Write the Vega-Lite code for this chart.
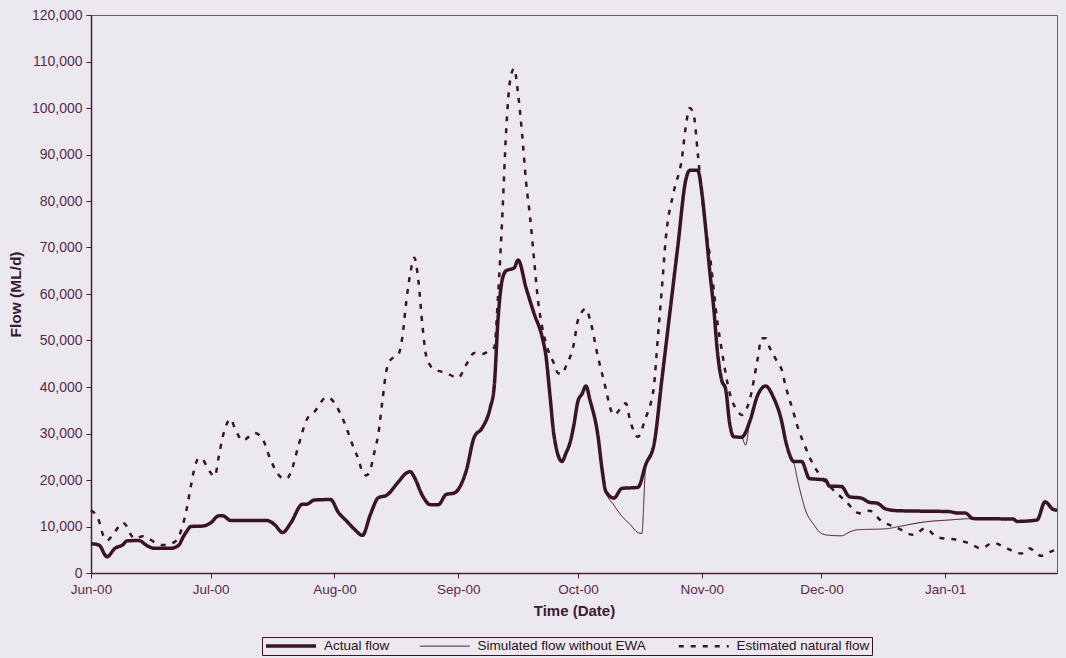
{
  "$schema": "https://vega.github.io/schema/vega-lite/v6.json",
  "autosize": {"type": "none"},
  "width": 966,
  "height": 558,
  "padding": {"left": 91, "top": 15, "right": 9, "bottom": 85},
  "background": "#ece8f0",
  "config": {
    "view": {"stroke": "#6e5a68", "strokeWidth": 1},
    "font": "Liberation Sans",
    "axis": {"labelFont": "Liberation Sans", "titleFont": "Liberation Sans", "labelColor": "#5a2a4a", "titleColor": "#3a1a30", "domainColor": "#4a1d36", "tickColor": "#4a1d36", "grid": false},
    "legend": {"labelFont": "Liberation Sans", "labelLimit": 400}
  },
  "data": {"values": [
    {"date": "2000-06-01", "series": "Actual flow", "flow": 6300},
    {"date": "2000-06-03", "series": "Actual flow", "flow": 6000},
    {"date": "2000-06-05", "series": "Actual flow", "flow": 3500},
    {"date": "2000-06-07", "series": "Actual flow", "flow": 5300},
    {"date": "2000-06-09", "series": "Actual flow", "flow": 6100},
    {"date": "2000-06-10", "series": "Actual flow", "flow": 6900},
    {"date": "2000-06-13", "series": "Actual flow", "flow": 7000},
    {"date": "2000-06-15", "series": "Actual flow", "flow": 5900},
    {"date": "2000-06-17", "series": "Actual flow", "flow": 5300},
    {"date": "2000-06-21", "series": "Actual flow", "flow": 5300},
    {"date": "2000-06-23", "series": "Actual flow", "flow": 6000},
    {"date": "2000-06-24", "series": "Actual flow", "flow": 7600},
    {"date": "2000-06-25", "series": "Actual flow", "flow": 9000},
    {"date": "2000-06-26", "series": "Actual flow", "flow": 10000},
    {"date": "2000-06-29", "series": "Actual flow", "flow": 10100},
    {"date": "2000-07-01", "series": "Actual flow", "flow": 10800},
    {"date": "2000-07-03", "series": "Actual flow", "flow": 12300},
    {"date": "2000-07-04", "series": "Actual flow", "flow": 12300},
    {"date": "2000-07-06", "series": "Actual flow", "flow": 11300},
    {"date": "2000-07-15", "series": "Actual flow", "flow": 11300},
    {"date": "2000-07-17", "series": "Actual flow", "flow": 10400},
    {"date": "2000-07-19", "series": "Actual flow", "flow": 8700},
    {"date": "2000-07-21", "series": "Actual flow", "flow": 10700},
    {"date": "2000-07-24", "series": "Actual flow", "flow": 14800},
    {"date": "2000-07-25", "series": "Actual flow", "flow": 14800},
    {"date": "2000-07-27", "series": "Actual flow", "flow": 15700},
    {"date": "2000-07-31", "series": "Actual flow", "flow": 15800},
    {"date": "2000-08-02", "series": "Actual flow", "flow": 13000},
    {"date": "2000-08-04", "series": "Actual flow", "flow": 11200},
    {"date": "2000-08-06", "series": "Actual flow", "flow": 9400},
    {"date": "2000-08-08", "series": "Actual flow", "flow": 8100},
    {"date": "2000-08-10", "series": "Actual flow", "flow": 12600},
    {"date": "2000-08-12", "series": "Actual flow", "flow": 16200},
    {"date": "2000-08-14", "series": "Actual flow", "flow": 16700},
    {"date": "2000-08-17", "series": "Actual flow", "flow": 19600},
    {"date": "2000-08-19", "series": "Actual flow", "flow": 21500},
    {"date": "2000-08-20", "series": "Actual flow", "flow": 21800},
    {"date": "2000-08-21", "series": "Actual flow", "flow": 20600},
    {"date": "2000-08-23", "series": "Actual flow", "flow": 16700},
    {"date": "2000-08-25", "series": "Actual flow", "flow": 14700},
    {"date": "2000-08-27", "series": "Actual flow", "flow": 14700},
    {"date": "2000-08-29", "series": "Actual flow", "flow": 16900},
    {"date": "2000-08-31", "series": "Actual flow", "flow": 17200},
    {"date": "2000-09-03", "series": "Actual flow", "flow": 22000},
    {"date": "2000-09-05", "series": "Actual flow", "flow": 29200},
    {"date": "2000-09-07", "series": "Actual flow", "flow": 31200},
    {"date": "2000-09-09", "series": "Actual flow", "flow": 35500},
    {"date": "2000-09-10", "series": "Actual flow", "flow": 40000},
    {"date": "2000-09-11", "series": "Actual flow", "flow": 55000},
    {"date": "2000-09-12", "series": "Actual flow", "flow": 63000},
    {"date": "2000-09-13", "series": "Actual flow", "flow": 65000},
    {"date": "2000-09-15", "series": "Actual flow", "flow": 65600},
    {"date": "2000-09-16", "series": "Actual flow", "flow": 67300},
    {"date": "2000-09-18", "series": "Actual flow", "flow": 61300},
    {"date": "2000-09-20", "series": "Actual flow", "flow": 55800},
    {"date": "2000-09-22", "series": "Actual flow", "flow": 50800},
    {"date": "2000-09-23", "series": "Actual flow", "flow": 46500},
    {"date": "2000-09-24", "series": "Actual flow", "flow": 38000},
    {"date": "2000-09-25", "series": "Actual flow", "flow": 29500},
    {"date": "2000-09-27", "series": "Actual flow", "flow": 24000},
    {"date": "2000-09-28", "series": "Actual flow", "flow": 25800},
    {"date": "2000-09-29", "series": "Actual flow", "flow": 28000},
    {"date": "2000-09-30", "series": "Actual flow", "flow": 32000},
    {"date": "2000-10-01", "series": "Actual flow", "flow": 37000},
    {"date": "2000-10-02", "series": "Actual flow", "flow": 38500},
    {"date": "2000-10-03", "series": "Actual flow", "flow": 40200},
    {"date": "2000-10-04", "series": "Actual flow", "flow": 37200},
    {"date": "2000-10-06", "series": "Actual flow", "flow": 29500},
    {"date": "2000-10-07", "series": "Actual flow", "flow": 22500},
    {"date": "2000-10-08", "series": "Actual flow", "flow": 17500},
    {"date": "2000-10-10", "series": "Actual flow", "flow": 16100},
    {"date": "2000-10-12", "series": "Actual flow", "flow": 18200},
    {"date": "2000-10-16", "series": "Actual flow", "flow": 18400},
    {"date": "2000-10-18", "series": "Actual flow", "flow": 23400},
    {"date": "2000-10-20", "series": "Actual flow", "flow": 27500},
    {"date": "2000-10-22", "series": "Actual flow", "flow": 41500},
    {"date": "2000-10-24", "series": "Actual flow", "flow": 55900},
    {"date": "2000-10-26", "series": "Actual flow", "flow": 70200},
    {"date": "2000-10-28", "series": "Actual flow", "flow": 84500},
    {"date": "2000-10-29", "series": "Actual flow", "flow": 86600},
    {"date": "2000-10-31", "series": "Actual flow", "flow": 86600},
    {"date": "2000-11-01", "series": "Actual flow", "flow": 82000},
    {"date": "2000-11-02", "series": "Actual flow", "flow": 74000},
    {"date": "2000-11-03", "series": "Actual flow", "flow": 65000},
    {"date": "2000-11-04", "series": "Actual flow", "flow": 57000},
    {"date": "2000-11-05", "series": "Actual flow", "flow": 47000},
    {"date": "2000-11-06", "series": "Actual flow", "flow": 41500},
    {"date": "2000-11-07", "series": "Actual flow", "flow": 39500},
    {"date": "2000-11-08", "series": "Actual flow", "flow": 32200},
    {"date": "2000-11-09", "series": "Actual flow", "flow": 29300},
    {"date": "2000-11-11", "series": "Actual flow", "flow": 29200},
    {"date": "2000-11-13", "series": "Actual flow", "flow": 32500},
    {"date": "2000-11-15", "series": "Actual flow", "flow": 38200},
    {"date": "2000-11-17", "series": "Actual flow", "flow": 40200},
    {"date": "2000-11-19", "series": "Actual flow", "flow": 37700},
    {"date": "2000-11-21", "series": "Actual flow", "flow": 32700},
    {"date": "2000-11-22", "series": "Actual flow", "flow": 28500},
    {"date": "2000-11-23", "series": "Actual flow", "flow": 25500},
    {"date": "2000-11-24", "series": "Actual flow", "flow": 24000},
    {"date": "2000-11-26", "series": "Actual flow", "flow": 24000},
    {"date": "2000-11-28", "series": "Actual flow", "flow": 20300},
    {"date": "2000-12-01", "series": "Actual flow", "flow": 20100},
    {"date": "2000-12-02", "series": "Actual flow", "flow": 20000},
    {"date": "2000-12-03", "series": "Actual flow", "flow": 18700},
    {"date": "2000-12-06", "series": "Actual flow", "flow": 18600},
    {"date": "2000-12-08", "series": "Actual flow", "flow": 16400},
    {"date": "2000-12-11", "series": "Actual flow", "flow": 16100},
    {"date": "2000-12-13", "series": "Actual flow", "flow": 15200},
    {"date": "2000-12-15", "series": "Actual flow", "flow": 15000},
    {"date": "2000-12-17", "series": "Actual flow", "flow": 13800},
    {"date": "2000-12-20", "series": "Actual flow", "flow": 13400},
    {"date": "2001-01-02", "series": "Actual flow", "flow": 13200},
    {"date": "2001-01-04", "series": "Actual flow", "flow": 12900},
    {"date": "2001-01-06", "series": "Actual flow", "flow": 12900},
    {"date": "2001-01-08", "series": "Actual flow", "flow": 11700},
    {"date": "2001-01-18", "series": "Actual flow", "flow": 11600},
    {"date": "2001-01-19", "series": "Actual flow", "flow": 11100},
    {"date": "2001-01-24", "series": "Actual flow", "flow": 11400},
    {"date": "2001-01-26", "series": "Actual flow", "flow": 15300},
    {"date": "2001-01-28", "series": "Actual flow", "flow": 13700},
    {"date": "2001-01-29", "series": "Actual flow", "flow": 13500},

    {"date": "2000-06-01", "series": "Simulated flow without EWA", "flow": 6300},
    {"date": "2000-06-03", "series": "Simulated flow without EWA", "flow": 6000},
    {"date": "2000-06-05", "series": "Simulated flow without EWA", "flow": 3500},
    {"date": "2000-06-07", "series": "Simulated flow without EWA", "flow": 5300},
    {"date": "2000-06-09", "series": "Simulated flow without EWA", "flow": 6100},
    {"date": "2000-06-10", "series": "Simulated flow without EWA", "flow": 6900},
    {"date": "2000-06-13", "series": "Simulated flow without EWA", "flow": 7000},
    {"date": "2000-06-15", "series": "Simulated flow without EWA", "flow": 5900},
    {"date": "2000-06-17", "series": "Simulated flow without EWA", "flow": 5300},
    {"date": "2000-06-21", "series": "Simulated flow without EWA", "flow": 5300},
    {"date": "2000-06-23", "series": "Simulated flow without EWA", "flow": 6000},
    {"date": "2000-06-24", "series": "Simulated flow without EWA", "flow": 7600},
    {"date": "2000-06-25", "series": "Simulated flow without EWA", "flow": 9000},
    {"date": "2000-06-26", "series": "Simulated flow without EWA", "flow": 10000},
    {"date": "2000-06-29", "series": "Simulated flow without EWA", "flow": 10100},
    {"date": "2000-07-01", "series": "Simulated flow without EWA", "flow": 10800},
    {"date": "2000-07-03", "series": "Simulated flow without EWA", "flow": 12300},
    {"date": "2000-07-04", "series": "Simulated flow without EWA", "flow": 12300},
    {"date": "2000-07-06", "series": "Simulated flow without EWA", "flow": 11300},
    {"date": "2000-07-15", "series": "Simulated flow without EWA", "flow": 11300},
    {"date": "2000-07-17", "series": "Simulated flow without EWA", "flow": 10400},
    {"date": "2000-07-19", "series": "Simulated flow without EWA", "flow": 8700},
    {"date": "2000-07-21", "series": "Simulated flow without EWA", "flow": 10700},
    {"date": "2000-07-24", "series": "Simulated flow without EWA", "flow": 14800},
    {"date": "2000-07-25", "series": "Simulated flow without EWA", "flow": 14800},
    {"date": "2000-07-27", "series": "Simulated flow without EWA", "flow": 15700},
    {"date": "2000-07-31", "series": "Simulated flow without EWA", "flow": 15800},
    {"date": "2000-08-02", "series": "Simulated flow without EWA", "flow": 13000},
    {"date": "2000-08-04", "series": "Simulated flow without EWA", "flow": 11200},
    {"date": "2000-08-06", "series": "Simulated flow without EWA", "flow": 9400},
    {"date": "2000-08-08", "series": "Simulated flow without EWA", "flow": 8100},
    {"date": "2000-08-10", "series": "Simulated flow without EWA", "flow": 12600},
    {"date": "2000-08-12", "series": "Simulated flow without EWA", "flow": 16200},
    {"date": "2000-08-14", "series": "Simulated flow without EWA", "flow": 16700},
    {"date": "2000-08-17", "series": "Simulated flow without EWA", "flow": 19600},
    {"date": "2000-08-19", "series": "Simulated flow without EWA", "flow": 21500},
    {"date": "2000-08-20", "series": "Simulated flow without EWA", "flow": 21800},
    {"date": "2000-08-21", "series": "Simulated flow without EWA", "flow": 20600},
    {"date": "2000-08-23", "series": "Simulated flow without EWA", "flow": 16700},
    {"date": "2000-08-25", "series": "Simulated flow without EWA", "flow": 14700},
    {"date": "2000-08-27", "series": "Simulated flow without EWA", "flow": 14700},
    {"date": "2000-08-29", "series": "Simulated flow without EWA", "flow": 16900},
    {"date": "2000-08-31", "series": "Simulated flow without EWA", "flow": 17200},
    {"date": "2000-09-03", "series": "Simulated flow without EWA", "flow": 22000},
    {"date": "2000-09-05", "series": "Simulated flow without EWA", "flow": 29200},
    {"date": "2000-09-07", "series": "Simulated flow without EWA", "flow": 31200},
    {"date": "2000-09-09", "series": "Simulated flow without EWA", "flow": 35500},
    {"date": "2000-09-10", "series": "Simulated flow without EWA", "flow": 40000},
    {"date": "2000-09-11", "series": "Simulated flow without EWA", "flow": 55000},
    {"date": "2000-09-12", "series": "Simulated flow without EWA", "flow": 63000},
    {"date": "2000-09-13", "series": "Simulated flow without EWA", "flow": 65000},
    {"date": "2000-09-15", "series": "Simulated flow without EWA", "flow": 65600},
    {"date": "2000-09-16", "series": "Simulated flow without EWA", "flow": 67300},
    {"date": "2000-09-18", "series": "Simulated flow without EWA", "flow": 61300},
    {"date": "2000-09-20", "series": "Simulated flow without EWA", "flow": 55800},
    {"date": "2000-09-22", "series": "Simulated flow without EWA", "flow": 50800},
    {"date": "2000-09-23", "series": "Simulated flow without EWA", "flow": 46500},
    {"date": "2000-09-24", "series": "Simulated flow without EWA", "flow": 38000},
    {"date": "2000-09-25", "series": "Simulated flow without EWA", "flow": 29500},
    {"date": "2000-09-27", "series": "Simulated flow without EWA", "flow": 24000},
    {"date": "2000-09-28", "series": "Simulated flow without EWA", "flow": 25800},
    {"date": "2000-09-29", "series": "Simulated flow without EWA", "flow": 28000},
    {"date": "2000-09-30", "series": "Simulated flow without EWA", "flow": 32000},
    {"date": "2000-10-01", "series": "Simulated flow without EWA", "flow": 37000},
    {"date": "2000-10-02", "series": "Simulated flow without EWA", "flow": 38500},
    {"date": "2000-10-03", "series": "Simulated flow without EWA", "flow": 40200},
    {"date": "2000-10-04", "series": "Simulated flow without EWA", "flow": 37200},
    {"date": "2000-10-06", "series": "Simulated flow without EWA", "flow": 29500},
    {"date": "2000-10-07", "series": "Simulated flow without EWA", "flow": 22500},
    {"date": "2000-10-08", "series": "Simulated flow without EWA", "flow": 17500},
    {"date": "2000-10-10", "series": "Simulated flow without EWA", "flow": 14600},
    {"date": "2000-10-12", "series": "Simulated flow without EWA", "flow": 12200},
    {"date": "2000-10-14", "series": "Simulated flow without EWA", "flow": 10500},
    {"date": "2000-10-16", "series": "Simulated flow without EWA", "flow": 8700},
    {"date": "2000-10-17", "series": "Simulated flow without EWA", "flow": 8500},
    {"date": "2000-10-18", "series": "Simulated flow without EWA", "flow": 23400},
    {"date": "2000-10-20", "series": "Simulated flow without EWA", "flow": 27500},
    {"date": "2000-10-22", "series": "Simulated flow without EWA", "flow": 41500},
    {"date": "2000-10-24", "series": "Simulated flow without EWA", "flow": 55900},
    {"date": "2000-10-26", "series": "Simulated flow without EWA", "flow": 70200},
    {"date": "2000-10-28", "series": "Simulated flow without EWA", "flow": 84500},
    {"date": "2000-10-29", "series": "Simulated flow without EWA", "flow": 86600},
    {"date": "2000-10-31", "series": "Simulated flow without EWA", "flow": 86600},
    {"date": "2000-11-01", "series": "Simulated flow without EWA", "flow": 82000},
    {"date": "2000-11-02", "series": "Simulated flow without EWA", "flow": 74000},
    {"date": "2000-11-03", "series": "Simulated flow without EWA", "flow": 65000},
    {"date": "2000-11-04", "series": "Simulated flow without EWA", "flow": 57000},
    {"date": "2000-11-05", "series": "Simulated flow without EWA", "flow": 47000},
    {"date": "2000-11-06", "series": "Simulated flow without EWA", "flow": 41500},
    {"date": "2000-11-07", "series": "Simulated flow without EWA", "flow": 39500},
    {"date": "2000-11-08", "series": "Simulated flow without EWA", "flow": 32200},
    {"date": "2000-11-09", "series": "Simulated flow without EWA", "flow": 29300},
    {"date": "2000-11-11", "series": "Simulated flow without EWA", "flow": 29200},
    {"date": "2000-11-12", "series": "Simulated flow without EWA", "flow": 27500},
    {"date": "2000-11-13", "series": "Simulated flow without EWA", "flow": 32500},
    {"date": "2000-11-15", "series": "Simulated flow without EWA", "flow": 38200},
    {"date": "2000-11-17", "series": "Simulated flow without EWA", "flow": 40200},
    {"date": "2000-11-19", "series": "Simulated flow without EWA", "flow": 37700},
    {"date": "2000-11-21", "series": "Simulated flow without EWA", "flow": 32700},
    {"date": "2000-11-22", "series": "Simulated flow without EWA", "flow": 28500},
    {"date": "2000-11-23", "series": "Simulated flow without EWA", "flow": 25500},
    {"date": "2000-11-24", "series": "Simulated flow without EWA", "flow": 24000},
    {"date": "2000-11-25", "series": "Simulated flow without EWA", "flow": 20000},
    {"date": "2000-11-26", "series": "Simulated flow without EWA", "flow": 16500},
    {"date": "2000-11-27", "series": "Simulated flow without EWA", "flow": 13500},
    {"date": "2000-11-29", "series": "Simulated flow without EWA", "flow": 10500},
    {"date": "2000-12-01", "series": "Simulated flow without EWA", "flow": 8500},
    {"date": "2000-12-03", "series": "Simulated flow without EWA", "flow": 8100},
    {"date": "2000-12-06", "series": "Simulated flow without EWA", "flow": 8000},
    {"date": "2000-12-08", "series": "Simulated flow without EWA", "flow": 8800},
    {"date": "2000-12-10", "series": "Simulated flow without EWA", "flow": 9300},
    {"date": "2000-12-17", "series": "Simulated flow without EWA", "flow": 9500},
    {"date": "2000-12-21", "series": "Simulated flow without EWA", "flow": 10100},
    {"date": "2000-12-27", "series": "Simulated flow without EWA", "flow": 11000},
    {"date": "2001-01-02", "series": "Simulated flow without EWA", "flow": 11400},
    {"date": "2001-01-08", "series": "Simulated flow without EWA", "flow": 11700},
    {"date": "2001-01-18", "series": "Simulated flow without EWA", "flow": 11600},
    {"date": "2001-01-19", "series": "Simulated flow without EWA", "flow": 11100},
    {"date": "2001-01-24", "series": "Simulated flow without EWA", "flow": 11400},
    {"date": "2001-01-26", "series": "Simulated flow without EWA", "flow": 15300},
    {"date": "2001-01-28", "series": "Simulated flow without EWA", "flow": 13700},
    {"date": "2001-01-29", "series": "Simulated flow without EWA", "flow": 13500},

    {"date": "2000-06-01", "series": "Estimated natural flow", "flow": 13500},
    {"date": "2000-06-03", "series": "Estimated natural flow", "flow": 11200},
    {"date": "2000-06-04", "series": "Estimated natural flow", "flow": 8200},
    {"date": "2000-06-05", "series": "Estimated natural flow", "flow": 7000},
    {"date": "2000-06-07", "series": "Estimated natural flow", "flow": 8900},
    {"date": "2000-06-09", "series": "Estimated natural flow", "flow": 10800},
    {"date": "2000-06-10", "series": "Estimated natural flow", "flow": 10000},
    {"date": "2000-06-11", "series": "Estimated natural flow", "flow": 8200},
    {"date": "2000-06-12", "series": "Estimated natural flow", "flow": 7400},
    {"date": "2000-06-14", "series": "Estimated natural flow", "flow": 7900},
    {"date": "2000-06-15", "series": "Estimated natural flow", "flow": 7600},
    {"date": "2000-06-17", "series": "Estimated natural flow", "flow": 6600},
    {"date": "2000-06-19", "series": "Estimated natural flow", "flow": 6000},
    {"date": "2000-06-22", "series": "Estimated natural flow", "flow": 6700},
    {"date": "2000-06-24", "series": "Estimated natural flow", "flow": 10300},
    {"date": "2000-06-25", "series": "Estimated natural flow", "flow": 13900},
    {"date": "2000-06-26", "series": "Estimated natural flow", "flow": 18600},
    {"date": "2000-06-27", "series": "Estimated natural flow", "flow": 22800},
    {"date": "2000-06-28", "series": "Estimated natural flow", "flow": 24700},
    {"date": "2000-06-29", "series": "Estimated natural flow", "flow": 24400},
    {"date": "2000-06-30", "series": "Estimated natural flow", "flow": 22900},
    {"date": "2000-07-02", "series": "Estimated natural flow", "flow": 20800},
    {"date": "2000-07-03", "series": "Estimated natural flow", "flow": 25000},
    {"date": "2000-07-04", "series": "Estimated natural flow", "flow": 29300},
    {"date": "2000-07-06", "series": "Estimated natural flow", "flow": 33100},
    {"date": "2000-07-07", "series": "Estimated natural flow", "flow": 31200},
    {"date": "2000-07-09", "series": "Estimated natural flow", "flow": 28500},
    {"date": "2000-07-12", "series": "Estimated natural flow", "flow": 30100},
    {"date": "2000-07-14", "series": "Estimated natural flow", "flow": 28800},
    {"date": "2000-07-16", "series": "Estimated natural flow", "flow": 24300},
    {"date": "2000-07-19", "series": "Estimated natural flow", "flow": 20400},
    {"date": "2000-07-20", "series": "Estimated natural flow", "flow": 20300},
    {"date": "2000-07-21", "series": "Estimated natural flow", "flow": 21500},
    {"date": "2000-07-23", "series": "Estimated natural flow", "flow": 27500},
    {"date": "2000-07-25", "series": "Estimated natural flow", "flow": 32900},
    {"date": "2000-07-27", "series": "Estimated natural flow", "flow": 34700},
    {"date": "2000-07-30", "series": "Estimated natural flow", "flow": 37800},
    {"date": "2000-07-31", "series": "Estimated natural flow", "flow": 37500},
    {"date": "2000-08-03", "series": "Estimated natural flow", "flow": 33300},
    {"date": "2000-08-06", "series": "Estimated natural flow", "flow": 26500},
    {"date": "2000-08-07", "series": "Estimated natural flow", "flow": 24500},
    {"date": "2000-08-08", "series": "Estimated natural flow", "flow": 21700},
    {"date": "2000-08-09", "series": "Estimated natural flow", "flow": 21000},
    {"date": "2000-08-10", "series": "Estimated natural flow", "flow": 22300},
    {"date": "2000-08-11", "series": "Estimated natural flow", "flow": 26000},
    {"date": "2000-08-12", "series": "Estimated natural flow", "flow": 30000},
    {"date": "2000-08-13", "series": "Estimated natural flow", "flow": 37000},
    {"date": "2000-08-14", "series": "Estimated natural flow", "flow": 43500},
    {"date": "2000-08-15", "series": "Estimated natural flow", "flow": 45800},
    {"date": "2000-08-17", "series": "Estimated natural flow", "flow": 47000},
    {"date": "2000-08-18", "series": "Estimated natural flow", "flow": 50700},
    {"date": "2000-08-19", "series": "Estimated natural flow", "flow": 58500},
    {"date": "2000-08-20", "series": "Estimated natural flow", "flow": 64500},
    {"date": "2000-08-21", "series": "Estimated natural flow", "flow": 67800},
    {"date": "2000-08-22", "series": "Estimated natural flow", "flow": 63000},
    {"date": "2000-08-23", "series": "Estimated natural flow", "flow": 53500},
    {"date": "2000-08-24", "series": "Estimated natural flow", "flow": 46500},
    {"date": "2000-08-25", "series": "Estimated natural flow", "flow": 44600},
    {"date": "2000-08-26", "series": "Estimated natural flow", "flow": 43900},
    {"date": "2000-08-29", "series": "Estimated natural flow", "flow": 43000},
    {"date": "2000-09-01", "series": "Estimated natural flow", "flow": 42000},
    {"date": "2000-09-03", "series": "Estimated natural flow", "flow": 44800},
    {"date": "2000-09-05", "series": "Estimated natural flow", "flow": 47300},
    {"date": "2000-09-07", "series": "Estimated natural flow", "flow": 47100},
    {"date": "2000-09-09", "series": "Estimated natural flow", "flow": 48000},
    {"date": "2000-09-10", "series": "Estimated natural flow", "flow": 48500},
    {"date": "2000-09-11", "series": "Estimated natural flow", "flow": 60000},
    {"date": "2000-09-12", "series": "Estimated natural flow", "flow": 76000},
    {"date": "2000-09-13", "series": "Estimated natural flow", "flow": 95000},
    {"date": "2000-09-14", "series": "Estimated natural flow", "flow": 106000},
    {"date": "2000-09-15", "series": "Estimated natural flow", "flow": 108500},
    {"date": "2000-09-16", "series": "Estimated natural flow", "flow": 103000},
    {"date": "2000-09-17", "series": "Estimated natural flow", "flow": 94400},
    {"date": "2000-09-18", "series": "Estimated natural flow", "flow": 84000},
    {"date": "2000-09-19", "series": "Estimated natural flow", "flow": 76500},
    {"date": "2000-09-20", "series": "Estimated natural flow", "flow": 67400},
    {"date": "2000-09-21", "series": "Estimated natural flow", "flow": 58500},
    {"date": "2000-09-22", "series": "Estimated natural flow", "flow": 53000},
    {"date": "2000-09-23", "series": "Estimated natural flow", "flow": 49300},
    {"date": "2000-09-25", "series": "Estimated natural flow", "flow": 45000},
    {"date": "2000-09-26", "series": "Estimated natural flow", "flow": 43000},
    {"date": "2000-09-27", "series": "Estimated natural flow", "flow": 42800},
    {"date": "2000-09-28", "series": "Estimated natural flow", "flow": 44500},
    {"date": "2000-09-30", "series": "Estimated natural flow", "flow": 49400},
    {"date": "2000-10-01", "series": "Estimated natural flow", "flow": 54400},
    {"date": "2000-10-03", "series": "Estimated natural flow", "flow": 56800},
    {"date": "2000-10-04", "series": "Estimated natural flow", "flow": 54500},
    {"date": "2000-10-06", "series": "Estimated natural flow", "flow": 46500},
    {"date": "2000-10-08", "series": "Estimated natural flow", "flow": 39500},
    {"date": "2000-10-09", "series": "Estimated natural flow", "flow": 35700},
    {"date": "2000-10-10", "series": "Estimated natural flow", "flow": 34000},
    {"date": "2000-10-13", "series": "Estimated natural flow", "flow": 36500},
    {"date": "2000-10-14", "series": "Estimated natural flow", "flow": 33000},
    {"date": "2000-10-16", "series": "Estimated natural flow", "flow": 29300},
    {"date": "2000-10-18", "series": "Estimated natural flow", "flow": 33500},
    {"date": "2000-10-19", "series": "Estimated natural flow", "flow": 35800},
    {"date": "2000-10-20", "series": "Estimated natural flow", "flow": 40000},
    {"date": "2000-10-21", "series": "Estimated natural flow", "flow": 50500},
    {"date": "2000-10-22", "series": "Estimated natural flow", "flow": 61000},
    {"date": "2000-10-23", "series": "Estimated natural flow", "flow": 72000},
    {"date": "2000-10-25", "series": "Estimated natural flow", "flow": 82000},
    {"date": "2000-10-27", "series": "Estimated natural flow", "flow": 89000},
    {"date": "2000-10-28", "series": "Estimated natural flow", "flow": 96000},
    {"date": "2000-10-29", "series": "Estimated natural flow", "flow": 100000},
    {"date": "2000-10-30", "series": "Estimated natural flow", "flow": 98500},
    {"date": "2000-10-31", "series": "Estimated natural flow", "flow": 90300},
    {"date": "2000-11-01", "series": "Estimated natural flow", "flow": 81500},
    {"date": "2000-11-02", "series": "Estimated natural flow", "flow": 74000},
    {"date": "2000-11-03", "series": "Estimated natural flow", "flow": 68500},
    {"date": "2000-11-05", "series": "Estimated natural flow", "flow": 53500},
    {"date": "2000-11-06", "series": "Estimated natural flow", "flow": 48000},
    {"date": "2000-11-08", "series": "Estimated natural flow", "flow": 38700},
    {"date": "2000-11-10", "series": "Estimated natural flow", "flow": 34800},
    {"date": "2000-11-11", "series": "Estimated natural flow", "flow": 34000},
    {"date": "2000-11-13", "series": "Estimated natural flow", "flow": 37200},
    {"date": "2000-11-15", "series": "Estimated natural flow", "flow": 46000},
    {"date": "2000-11-16", "series": "Estimated natural flow", "flow": 50500},
    {"date": "2000-11-17", "series": "Estimated natural flow", "flow": 50500},
    {"date": "2000-11-18", "series": "Estimated natural flow", "flow": 48500},
    {"date": "2000-11-20", "series": "Estimated natural flow", "flow": 45300},
    {"date": "2000-11-21", "series": "Estimated natural flow", "flow": 43800},
    {"date": "2000-11-22", "series": "Estimated natural flow", "flow": 40200},
    {"date": "2000-11-24", "series": "Estimated natural flow", "flow": 34500},
    {"date": "2000-11-25", "series": "Estimated natural flow", "flow": 31500},
    {"date": "2000-11-27", "series": "Estimated natural flow", "flow": 27000},
    {"date": "2000-11-29", "series": "Estimated natural flow", "flow": 23200},
    {"date": "2000-11-30", "series": "Estimated natural flow", "flow": 21800},
    {"date": "2000-12-04", "series": "Estimated natural flow", "flow": 17800},
    {"date": "2000-12-07", "series": "Estimated natural flow", "flow": 15500},
    {"date": "2000-12-10", "series": "Estimated natural flow", "flow": 13000},
    {"date": "2000-12-11", "series": "Estimated natural flow", "flow": 12800},
    {"date": "2000-12-13", "series": "Estimated natural flow", "flow": 13400},
    {"date": "2000-12-16", "series": "Estimated natural flow", "flow": 11200},
    {"date": "2000-12-20", "series": "Estimated natural flow", "flow": 9700},
    {"date": "2000-12-24", "series": "Estimated natural flow", "flow": 8200},
    {"date": "2000-12-27", "series": "Estimated natural flow", "flow": 9600},
    {"date": "2000-12-30", "series": "Estimated natural flow", "flow": 7700},
    {"date": "2001-01-04", "series": "Estimated natural flow", "flow": 7100},
    {"date": "2001-01-07", "series": "Estimated natural flow", "flow": 6400},
    {"date": "2001-01-10", "series": "Estimated natural flow", "flow": 5300},
    {"date": "2001-01-13", "series": "Estimated natural flow", "flow": 6500},
    {"date": "2001-01-16", "series": "Estimated natural flow", "flow": 5500},
    {"date": "2001-01-20", "series": "Estimated natural flow", "flow": 4200},
    {"date": "2001-01-22", "series": "Estimated natural flow", "flow": 5300},
    {"date": "2001-01-25", "series": "Estimated natural flow", "flow": 3700},
    {"date": "2001-01-28", "series": "Estimated natural flow", "flow": 4800},
    {"date": "2001-01-29", "series": "Estimated natural flow", "flow": 5000}
  ]},
  "mark": {"type": "line", "interpolate": "monotone"},
  "encoding": {
    "x": {
      "field": "date", "type": "temporal",
      "scale": {"nice": false},
      "axis": {"title": "Time (Date)", "format": "%b-%y", "tickCount": {"interval": "month", "step": 1}, "labelFontSize": 13.5, "titleFontSize": 15, "titleFontWeight": "bold", "tickSize": 5, "labelPadding": 4, "titlePadding": 8, "domainWidth": 1.5, "labelFlush": false, "labelOverlap": false}
    },
    "y": {
      "field": "flow", "type": "quantitative",
      "scale": {"domain": [0, 120000], "nice": false},
      "axis": {"title": "Flow (ML/d)", "format": ",d", "values": [0, 10000, 20000, 30000, 40000, 50000, 60000, 70000, 80000, 90000, 100000, 110000, 120000], "labelFontSize": 14, "titleFontSize": 15.5, "titleFontWeight": "bold", "tickSize": 5, "labelPadding": 4, "titlePadding": 8, "domainWidth": 1.5}
    },
    "color": {
      "field": "series", "type": "nominal",
      "scale": {"domain": ["Actual flow", "Simulated flow without EWA", "Estimated natural flow"], "range": ["#3a1420", "#3a1420", "#3a1420"]},
      "legend": {"title": null, "orient": "none", "legendX": 171, "legendY": 622, "direction": "horizontal", "symbolType": "M-1,0H9", "symbolSize": 100, "labelFontSize": 13.5, "labelLimit": 400, "labelColor": "#2a1020", "strokeColor": "#3a1420", "padding": 2, "columnPadding": 27, "labelOffset": 46}
    },
    "strokeDash": {
      "field": "series", "type": "nominal",
      "scale": {"domain": ["Actual flow", "Simulated flow without EWA", "Estimated natural flow"], "range": [[1, 0], [1, 0], [5, 7]]},
      "legend": {"title": null, "orient": "none", "legendX": 171, "legendY": 622, "direction": "horizontal", "symbolType": "M-1,0H9", "symbolSize": 100, "labelFontSize": 13.5, "labelLimit": 400, "labelColor": "#2a1020", "strokeColor": "#3a1420", "padding": 2, "columnPadding": 27, "labelOffset": 46}
    },
    "strokeWidth": {
      "field": "series", "type": "nominal",
      "scale": {"type": "ordinal", "domain": ["Actual flow", "Simulated flow without EWA", "Estimated natural flow"], "range": [3.5, 1, 2.5]},
      "legend": {"title": null, "orient": "none", "legendX": 171, "legendY": 622, "direction": "horizontal", "symbolType": "M-1,0H9", "symbolSize": 100, "labelFontSize": 13.5, "labelLimit": 400, "labelColor": "#2a1020", "strokeColor": "#3a1420", "padding": 2, "columnPadding": 27, "labelOffset": 46}
    }
  }
}
